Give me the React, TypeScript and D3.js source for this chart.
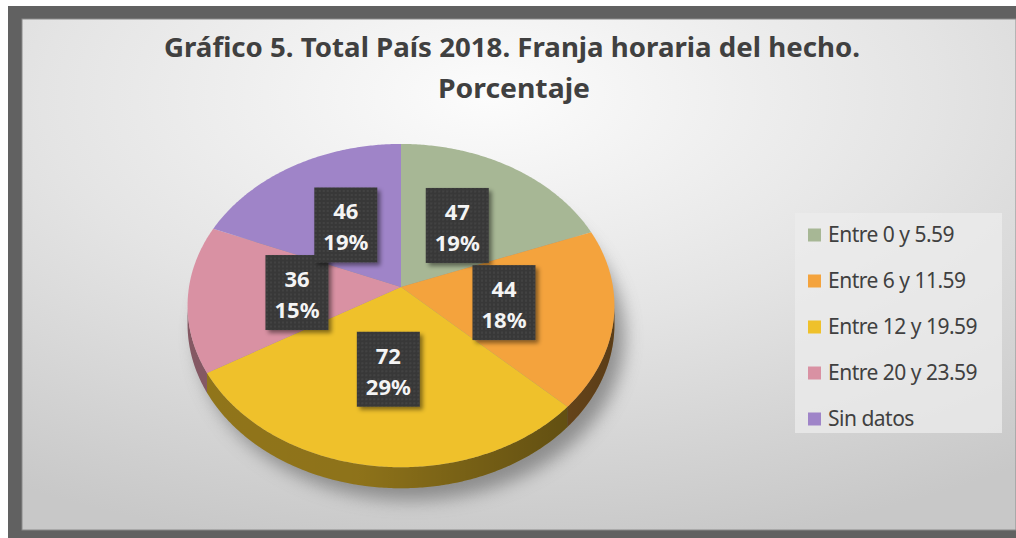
import React from "react";
import * as d3 from "d3";

// Franja horaria del hecho - valores absolutos por categoría
const categories = [
  "Entre 0 y 5.59",
  "Entre 6 y 11.59",
  "Entre 12 y 19.59",
  "Entre 20 y 23.59",
  "Sin datos",
];
const values = [47, 44, 72, 36, 46];
const colors = ["#a7b795", "#f4a33d", "#efc12b", "#d991a3", "#9f84c8"];
const titleLines = [
  "Gráfico 5. Total País 2018. Franja horaria del hecho.",
  "Porcentaje",
];

const W = 1016;
const H = 538;

// geometría del pie 3D (perspectiva simple)
const cx = 401;
const cy = 287;
const rx = 212;
const ry = 159.5;
const k = 0.115; // factor de perspectiva
const depth = 18.6;

const proj = (theta: number, f: number, dz: number): [number, number] => {
  const u = f * Math.sin(theta);
  const v = f * Math.cos(theta);
  const den = 1 + k * v;
  return [cx + (rx * u) / den, cy - (ry * v) / den + dz / den];
};

const sample = (a0: number, a1: number) => {
  const n = Math.max(2, Math.ceil((a1 - a0) / 0.01));
  return d3.range(n + 1).map((i) => a0 + ((a1 - a0) * i) / n);
};

const line = d3.line<[number, number]>();

const App: React.FC = () => {
  const total = d3.sum(values);
  const pct = d3.format(".0%");
  const arcs = d3.pie<number>().sort(null)(values);

  const lo = Math.acos(-k);
  const hi = 2 * Math.PI - lo;

  // cara superior de cada porción
  const topPaths = arcs.map((a) => {
    const pts: [number, number][] = [
      [cx, cy],
      ...sample(a.startAngle, a.endAngle).map((t) => proj(t, 1, 0)),
    ];
    return line(pts) + "Z";
  });

  // lados visibles
  const sidePath = (s0: number, s1: number) => {
    const ts = sample(s0, s1);
    const pts: [number, number][] = [
      ...ts.map((t) => proj(t, 1, 0)),
      ...ts.slice().reverse().map((t) => proj(t, 1, depth)),
    ];
    return line(pts) + "Z";
  };
  const sides = arcs
    .map((a, i) => {
      const s0 = Math.max(a.startAngle, lo);
      const s1 = Math.min(a.endAngle, hi);
      return s1 > s0 ? { i, d: sidePath(s0, s1) } : null;
    })
    .filter((s) => s !== null) as { i: number; d: string }[];

  const shadowPath =
    line(sample(0, 2 * Math.PI).map((t) => proj(t, 1, depth))) + "Z";

  const legendY = d3
    .scalePoint<string>()
    .domain(categories)
    .range([235, 419]);

  return (
    <svg
      width={W}
      height={H}
      style={{ position: "absolute", left: 0, top: 0, display: "block" }}
      fontFamily="'Noto Sans', 'DejaVu Sans', sans-serif"
    >
      <defs>
        <radialGradient id="bg" cx="0.47" cy="0.15" r="0.9">
          <stop offset="0%" stopColor="#fcfcfc" />
          <stop offset="50%" stopColor="#e4e4e4" />
          <stop offset="100%" stopColor="#c8c8c8" />
        </radialGradient>
        <linearGradient
          id="sideShade"
          gradientUnits="userSpaceOnUse"
          x1={cx - rx}
          y1={0}
          x2={cx + rx}
          y2={0}
        >
          <stop offset="0%" stopColor="#000" stopOpacity={0.1} />
          <stop offset="40%" stopColor="#000" stopOpacity={0.12} />
          <stop offset="100%" stopColor="#000" stopOpacity={0.45} />
        </linearGradient>
        <filter id="blur" x="-20%" y="-20%" width="140%" height="140%">
          <feGaussianBlur stdDeviation="9" />
        </filter>
        <filter id="boxShadow" x="-20%" y="-20%" width="150%" height="150%">
          <feDropShadow dx="3" dy="3" stdDeviation="2" floodColor="#000" floodOpacity="0.45" />
        </filter>
        <pattern id="dots" width="4" height="4" patternUnits="userSpaceOnUse">
          <rect width="4" height="4" fill="#383838" />
          <circle cx="2" cy="2" r="0.7" fill="#555" />
        </pattern>
      </defs>

      {/* marco */}
      <rect x={8} y={6} width={W - 8} height={H - 6} fill="#616161" />
      <rect x={22} y={19} width={W - 22} height={511} fill="url(#bg)" stroke="#8a8a8a" strokeWidth={1} />

      {/* título */}
      <text
        x={512}
        y={57}
        textAnchor="middle"
        fontSize={27}
        fontWeight={700}
        fill="#404040"
        textLength={696}
        lengthAdjust="spacingAndGlyphs"
      >
        {titleLines[0]}
      </text>
      <text
        x={514}
        y={98}
        textAnchor="middle"
        fontSize={27}
        fontWeight={700}
        fill="#404040"
        textLength={152}
        lengthAdjust="spacingAndGlyphs"
      >
        {titleLines[1]}
      </text>

      {/* sombra del pie */}
      <path d={shadowPath} fill="#6e6e6e" opacity={0.7} transform="translate(10,12)" filter="url(#blur)" />

      {/* lados */}
      {sides.map((s) => (
        <path key={"s" + s.i} d={s.d} fill={d3.color(colors[s.i])!.darker(1.1).formatHex()} />
      ))}
      <path d={sidePath(lo, hi)} fill="url(#sideShade)" />

      {/* caras superiores */}
      {topPaths.map((d, i) => (
        <path key={"t" + i} d={d} fill={colors[i]} />
      ))}

      {/* etiquetas */}
      {arcs.map((a, i) => {
        const mid = (a.startAngle + a.endAngle) / 2;
        const [lx, ly] = proj(mid, 0.49, 0);
        return (
          <g key={"l" + i} transform={`translate(${lx},${ly})`}>
            <rect x={-31.5} y={-37.5} width={63} height={75} fill="url(#dots)" filter="url(#boxShadow)" />
            <text y={-5.5} textAnchor="middle" fontSize={22} fontWeight={700} fill="#f4f4f4">
              {values[i]}
            </text>
            <text y={25.5} textAnchor="middle" fontSize={22} fontWeight={700} fill="#f4f4f4">
              {pct(values[i] / total)}
            </text>
          </g>
        );
      })}

      {/* leyenda */}
      <rect x={795} y={213} width={207} height={220} fill="#ececec" opacity={0.75} />
      {categories.map((c, i) => {
        const y = legendY(c)!;
        return (
          <g key={"lg" + i}>
            <rect x={808} y={y - 6.5} width={13} height={13} fill={colors[i]} />
            <text x={828} y={y} dy="0.35em" fontSize={21} fill="#404040" letterSpacing={-0.5}>
              {c}
            </text>
          </g>
        );
      })}
    </svg>
  );
};

export default App;
